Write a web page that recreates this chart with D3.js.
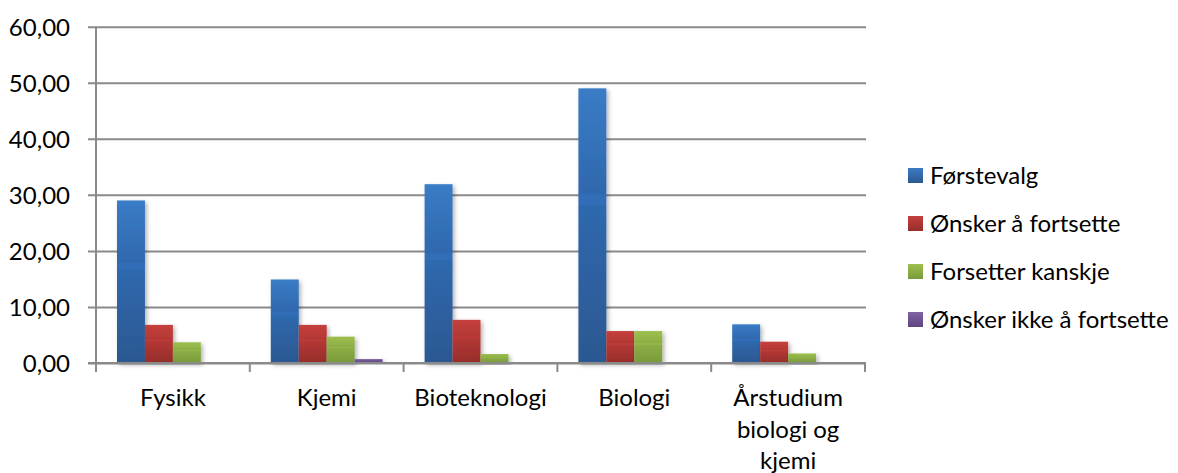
<!DOCTYPE html>
<html>
<head>
<meta charset="utf-8">
<script src="https://cdn.jsdelivr.net/npm/d3@7"></script>
<style>
  html, body { margin: 0; padding: 0; background: #fff; }
  svg { display: block; font-family: Lato, "Open Sans", sans-serif; }
</style>
</head>
<body>
<svg id="chart" width="1178" height="473"></svg>
<script>
// Study programmes on the x axis
const categories = ["Fysikk", "Kjemi", "Bioteknologi", "Biologi", "Årstudium biologi og kjemi"];
const categoryLines = [["Fysikk"], ["Kjemi"], ["Bioteknologi"], ["Biologi"], ["Årstudium", "biologi og", "kjemi"]];

// Series names and values (per category)
const seriesNames = ["Førstevalg", "Ønsker å fortsette", "Forsetter kanskje", "Ønsker ikke å fortsette"];
const forstevalg = [29.0, 14.9, 31.9, 49.0, 6.9];
const onskerFortsette = [6.8, 6.8, 7.7, 5.7, 3.8];
const forsetterKanskje = [3.7, 4.7, 1.6, 5.7, 1.7];
const onskerIkke = [0, 0.7, 0, 0, 0];
const seriesValues = [forstevalg, onskerFortsette, forsetterKanskje, onskerIkke];

// Y axis ticks
const yTicks = [0, 10, 20, 30, 40, 50, 60];

// Top/middle/bottom colours for each series' gradient
const colorsTop = ["#3a7cc6", "#c5403c", "#9dc04e", "#8063a6"];
const colorsMid = ["#2f68ae", "#b33835", "#8cad45", "#6f5494"];
const colorsBot = ["#2c5891", "#962d2b", "#789a3a", "#5e4580"];

const FONT = 24;

const svg = d3.select("#chart");
const plot = { left: 96, right: 865, top: 26.7, bottom: 363 };

const x = d3.scaleBand().domain(categories).range([plot.left, plot.right]).padding(0);
const innerPad = 21;
const xs = d3.scaleBand().domain(seriesNames)
  .range([innerPad, x.bandwidth() - innerPad]).padding(0);
const y = d3.scaleLinear().domain([0, 60]).range([plot.bottom, plot.top]);

const nbLocale = d3.formatLocale({ decimal: ",", thousands: " ", grouping: [3], currency: ["", " kr"] });
const fmt = nbLocale.format(".2f");

const defs = svg.append("defs");
seriesNames.forEach((s, i) => {
  const band = d3.color(colorsMid[i]).brighter(0.15);
  const g = defs.append("linearGradient").attr("id", "grad" + i)
    .attr("x1", 0).attr("y1", 0).attr("x2", 0).attr("y2", 1);
  g.append("stop").attr("offset", "0").attr("stop-color", colorsTop[i]);
  g.append("stop").attr("offset", "0.38").attr("stop-color", colorsMid[i]);
  g.append("stop").attr("offset", "0.39").attr("stop-color", band);
  g.append("stop").attr("offset", "0.42").attr("stop-color", band);
  g.append("stop").attr("offset", "0.43").attr("stop-color", colorsMid[i]);
  g.append("stop").attr("offset", "1").attr("stop-color", colorsBot[i]);
  const lg = defs.append("linearGradient").attr("id", "lgrad" + i)
    .attr("x1", 0).attr("y1", 0).attr("x2", 0).attr("y2", 1);
  lg.append("stop").attr("offset", "0").attr("stop-color", colorsTop[i]);
  lg.append("stop").attr("offset", "1").attr("stop-color", colorsBot[i]);
});
const shadow = defs.append("filter").attr("id", "shadow")
  .attr("x", "-20%").attr("y", "-20%").attr("width", "160%").attr("height", "140%");
shadow.append("feDropShadow").attr("dx", 2).attr("dy", 2).attr("stdDeviation", 2)
  .attr("flood-color", "#000").attr("flood-opacity", 0.3);

// Gridlines with left tick stubs
const yAxis = d3.axisLeft(y).tickValues(yTicks).tickFormat(fmt)
  .tickSize(-(plot.right - plot.left + 1)).tickSizeOuter(0).tickPadding(0);
const gy = svg.append("g").attr("transform", `translate(${plot.left},0)`).call(yAxis);
gy.select(".domain").remove();
gy.selectAll(".tick line").attr("x1", -8).attr("stroke", "#8a8a8a").attr("stroke-width", 2);
gy.selectAll(".tick text").attr("x", -26).attr("dy", "0.36em")
  .attr("font-size", FONT).attr("fill", "#000").attr("font-family", "Lato, sans-serif");

// Bars
const groups = svg.append("g").selectAll("g").data(categories).join("g")
  .attr("transform", d => `translate(${x(d)},0)`);
groups.selectAll("rect")
  .data((c, ci) => seriesNames.map((s, si) => ({ s, si, v: seriesValues[si][ci] })).filter(d => d.v > 0))
  .join("rect")
  .attr("x", d => xs(d.s))
  .attr("width", xs.bandwidth())
  .attr("y", d => y(d.v))
  .attr("height", d => y(0) - y(d.v))
  .attr("fill", d => `url(#grad${d.si})`)
  .attr("filter", "url(#shadow)");

// Value axis line
svg.append("line").attr("x1", plot.left).attr("x2", plot.left)
  .attr("y1", plot.top).attr("y2", plot.bottom + 1)
  .attr("stroke", "#8a8a8a").attr("stroke-width", 2);

// Category axis with tick marks at band boundaries
svg.append("line").attr("x1", plot.left - 8).attr("x2", plot.right + 1)
  .attr("y1", plot.bottom).attr("y2", plot.bottom)
  .attr("stroke", "#8a8a8a").attr("stroke-width", 2);
const boundaries = categories.map(c => x(c)).concat([x(categories[categories.length - 1]) + x.bandwidth()]);
svg.append("g").selectAll("line").data(boundaries).join("line")
  .attr("x1", d => d).attr("x2", d => d)
  .attr("y1", plot.bottom).attr("y2", plot.bottom + 9)
  .attr("stroke", "#8a8a8a").attr("stroke-width", 2);

// Category labels
const lab = svg.append("g").selectAll("text").data(categories).join("text")
  .attr("x", d => x(d) + x.bandwidth() / 2)
  .attr("y", 406)
  .attr("text-anchor", "middle")
  .attr("font-size", FONT).attr("fill", "#000");
lab.each(function (d, i) {
  d3.select(this).selectAll("tspan").data(categoryLines[i]).join("tspan")
    .attr("x", x(d) + x.bandwidth() / 2)
    .attr("dy", (t, j) => j === 0 ? 0 : 31.5)
    .text(t => t);
});

// Legend
const legend = svg.append("g").attr("transform", "translate(908,168)");
const li = legend.selectAll("g").data(seriesNames).join("g")
  .attr("transform", (d, i) => `translate(0,${i * 48})`);
li.append("rect").attr("width", 15).attr("height", 15)
  .attr("fill", (d, i) => `url(#lgrad${i})`);
li.append("text").attr("x", 22).attr("y", 7.5).attr("dy", "0.36em")
  .attr("font-size", FONT).attr("fill", "#000").text(d => d);
</script>
</body>
</html>
